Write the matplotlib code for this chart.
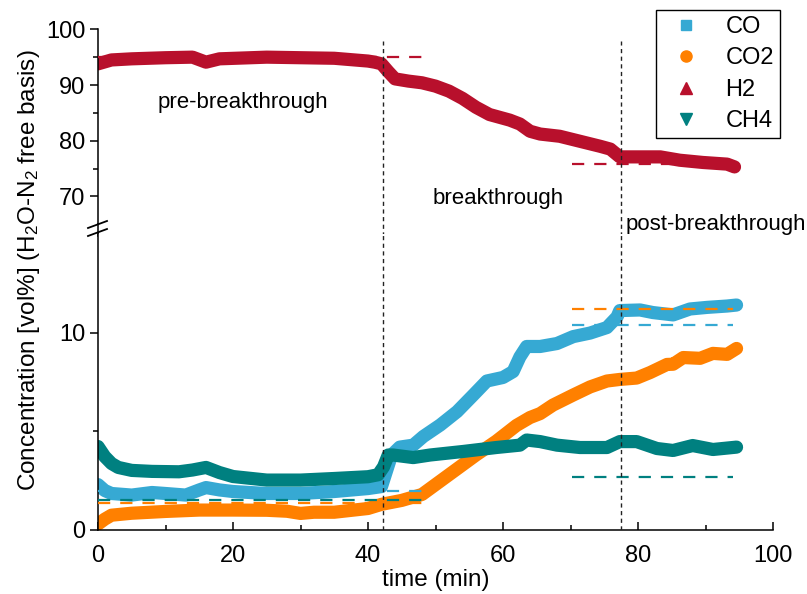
import matplotlib.pyplot as plt
from matplotlib.lines import Line2D

# time (min) and concentration (vol%)
t_co = [0, 1, 2, 5, 8, 10, 13, 15, 16, 18, 20, 25, 30, 35, 40, 42, 43.5, 44.7,
        46.7, 48.2, 50.7, 53.2, 55.6, 57.6, 60, 61.5, 62.5, 63.5, 65.5, 68, 70.4,
        72.9, 75.4, 76.9, 77.3, 80.3, 82.2, 85.2, 87.7, 90.2, 93.2, 94.6]
co = [2.3, 2.0, 1.85, 1.77, 1.9, 1.85, 1.77, 2.03, 2.15, 2.03, 1.95, 1.85, 1.85,
      1.95, 2.1, 2.2, 3.8, 4.2, 4.3, 4.74, 5.32, 6.0, 6.84, 7.55, 7.73, 8.03, 8.77,
      9.3, 9.3, 9.45, 9.8, 9.98, 10.26, 10.8, 11.12, 11.15, 11.02, 10.9, 11.2,
      11.28, 11.35, 11.4]

t_co2 = [0, 1, 2, 5, 10, 15, 20, 25, 28, 30, 32, 35, 40, 42, 45, 48, 50, 52, 54,
         56, 59, 62, 64, 65.5, 67.4, 70.4, 72.9, 75.4, 77.3, 79.8, 81.8, 84.3,
         85.2, 86.7, 89.2, 91.1, 93.2, 94.6]
co2 = [0.3, 0.55, 0.75, 0.85, 0.94, 1.01, 1.01, 1.0, 0.95, 0.84, 0.9, 0.9, 1.09,
       1.3, 1.5, 1.8, 2.3, 2.8, 3.3, 3.8, 4.5, 5.3, 5.7, 5.9, 6.33, 6.84, 7.25,
       7.55, 7.63, 7.7, 7.98, 8.39, 8.4, 8.74, 8.7, 8.95, 8.9, 9.2]

t_h2 = [0, 2, 5, 10, 14, 16, 18, 25, 30, 35, 40, 41, 42, 43, 44, 46, 48, 50, 52,
        54, 56, 58, 61, 62.5, 64, 65.5, 68.4, 71.4, 74.4, 75.9, 77.3, 80.3, 83.3,
        86.2, 89.6, 93.2, 94.3]
h2 = [93.8, 94.5, 94.7, 94.9, 95.0, 94.1, 94.7, 95.0, 94.9, 94.8, 94.3, 94.1,
      93.8, 92.4, 91.1, 90.7, 90.4, 89.8, 88.9, 87.6, 86.0, 84.7, 83.7, 83.0,
      81.7, 81.2, 80.8, 79.9, 79.0, 78.5, 77.1, 77.1, 77.1, 76.5, 76.1, 75.8, 75.3]

t_ch4 = [0, 1, 2, 3, 5, 8, 12, 14, 16, 18, 20, 25, 30, 35, 40, 41.5, 42.3, 43,
         43.7, 46.7, 49.2, 54.1, 59, 62.5, 63.5, 65.5, 68, 71.4, 75.4, 77.3, 79.8,
         82.8, 85.2, 88.1, 91.1, 94.6]
ch4 = [4.23, 3.72, 3.37, 3.17, 3.02, 2.97, 2.95, 3.04, 3.17, 2.91, 2.71, 2.53,
       2.53, 2.61, 2.7, 2.8, 3.2, 3.8, 3.8, 3.67, 3.8, 3.98, 4.18, 4.3, 4.56,
       4.48, 4.3, 4.18, 4.18, 4.48, 4.48, 4.13, 4.03, 4.28, 4.08, 4.2]

# reference levels (dashed): level, start, end
ref_co = [(2.0, 0, 48.5), (10.4, 70.2, 94)]
ref_co2 = [(1.35, 0, 48.5), (11.2, 70.2, 94)]
ref_h2 = [(95.1, 0, 48.5), (75.8, 70.2, 94)]
ref_ch4 = [(1.52, 0, 48.5), (2.69, 70.2, 94)]

phase_bounds = [42.2, 77.5]

c_co = '#36a9d3'
c_co2 = '#ff8000'
c_h2 = '#b8102c'
c_ch4 = '#008080'

plt.rcParams['font.family'] = ['Liberation Sans', 'DejaVu Sans']
plt.rcParams['mathtext.fontset'] = 'custom'
plt.rcParams['mathtext.rm'] = 'Liberation Sans'

W, H = 807, 594
fig = plt.figure(figsize=(W / 100, H / 100), dpi=100)


def box(x0, y0, x1, y1):
    return [x0 / W, 1 - y1 / H, (x1 - x0) / W, (y1 - y0) / H]


ax_top = fig.add_axes(box(98, 29.3, 773, 224.3))
ax_bot = fig.add_axes(box(98, 234, 773, 530))

series = [(t_co, co, c_co, ref_co), (t_co2, co2, c_co2, ref_co2),
          (t_h2, h2, c_h2, ref_h2), (t_ch4, ch4, c_ch4, ref_ch4)]

for ax in (ax_top, ax_bot):
    for t, v, c, refs in series:
        ax.plot(t, v, color=c, lw=9.5, solid_capstyle='round',
                solid_joinstyle='round', zorder=2)
        for lev, a, b in refs:
            ax.plot([a, b], [lev, lev], color=c, lw=1.6,
                    linestyle=(0, (5.5, 4.5)), zorder=3)
    ax.set_xlim(0, 100)
    for s in ('top', 'right'):
        ax.spines[s].set_visible(False)
    ax.spines['left'].set_linewidth(1.1)
    ax.spines['bottom'].set_linewidth(1.1)

ax_top.set_ylim(65, 100)
ax_bot.set_ylim(0, 15)

for xb in phase_bounds:
    ax_bot.axvline(xb, color='#222222', lw=1, linestyle=(0, (3, 2.5)), zorder=4)
    ax_top.axvline(xb, ymin=-0.06, ymax=0.94, color='#222222', lw=1,
                   linestyle=(0, (3, 2.5)), zorder=4, clip_on=False)

# top axes: only left spine
ax_top.spines['bottom'].set_visible(False)
ax_top.set_xticks([])
ax_top.set_yticks([70, 80, 90, 100])
ax_top.set_yticks([75, 85, 95], minor=True)
ax_bot.set_yticks([0, 10])
ax_bot.set_yticks([5], minor=True)
ax_bot.set_xticks([0, 20, 40, 60, 80, 100])
ax_bot.set_xticks([10, 30, 50, 70, 90], minor=True)

for ax in (ax_top, ax_bot):
    ax.tick_params(axis='y', which='major', direction='out', length=6, width=1.1,
                   labelsize=17, pad=3)
    ax.tick_params(axis='y', which='minor', direction='out', length=3.5, width=1.1)
ax_bot.tick_params(axis='x', which='major', direction='in', length=6, width=1.1,
                   labelsize=17, pad=11)
ax_bot.tick_params(axis='x', which='minor', direction='in', length=3.5, width=1.1)

# spine through the break and break marks
ax_top.plot([0, 0], [-0.06, 0], transform=ax_top.transAxes, color='black',
            lw=1.1, clip_on=False)
for yc in (224.5, 232.5):
    fig.add_artist(Line2D([88 / W, 107 / W], [1 - (yc + 3.5) / H, 1 - (yc - 3.5) / H],
                          color='black', lw=1.3, transform=fig.transFigure))

ax_top.text(21.5, 86.8, 'pre-breakthrough', ha='center', va='center', fontsize=16)
ax_top.text(59.3, 69.7, 'breakthrough', ha='center', va='center', fontsize=16)
ax_top.text(91.6, 65.0, 'post-breakthrough', ha='center', va='center',
            fontsize=16, clip_on=False)

ax_bot.set_xlabel('time (min)', fontsize=17.5, labelpad=1)
fig.text(29 / W, 1 - 270 / H,
         'Concentration [vol%] (H$\\mathregular{_2}$O-N$\\mathregular{_2}$ free basis)',
         rotation=90, ha='center', va='center', fontsize=17.5)

handles = [Line2D([], [], ls='none', marker='s', ms=7, color=c_co),
           Line2D([], [], ls='none', marker='o', ms=8, color=c_co2),
           Line2D([], [], ls='none', marker='^', ms=8, color=c_h2),
           Line2D([], [], ls='none', marker='v', ms=8, color=c_ch4)]
leg = fig.legend(handles, ['CO', 'CO2', 'H2', 'CH4'], loc='upper right',
                 bbox_to_anchor=(780 / W, 1 - 10 / H), fontsize=17,
                 fancybox=False, edgecolor='black', framealpha=1,
                 borderpad=0.25, labelspacing=0.4, handletextpad=0.65,
                 handlelength=2.05, borderaxespad=0)
leg.get_frame().set_linewidth(1)

fig.savefig('out.png', dpi=100)
